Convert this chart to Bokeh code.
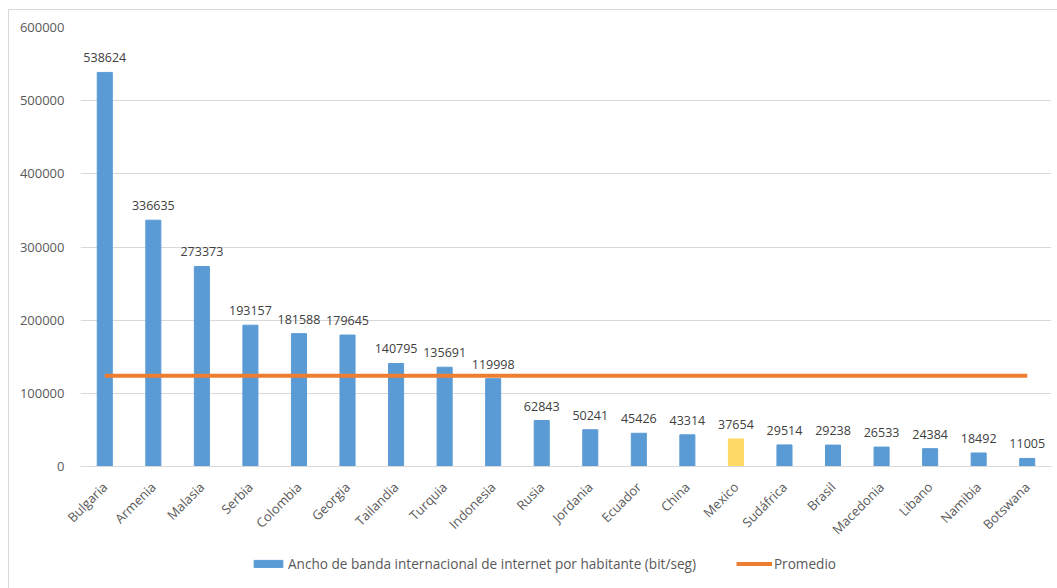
from math import pi

from bokeh.embed import file_html
from bokeh.resources import INLINE
from bokeh.plotting import figure
from bokeh.layouts import column
from bokeh.models import (ColumnDataSource, Range1d, FactorRange, Legend, LegendItem,
                          NumeralTickFormatter, FixedTicker)
from bokeh.core.properties import value

# --- data ---
paises = ["Bulgaria", "Armenia", "Malasia", "Serbia", "Colombia", "Georgia", "Tailandia",
          "Turquia", "Indonesia", "Rusia", "Jordania", "Ecuador", "China", "Mexico",
          "Sudáfrica", "Brasil", "Macedonia", "Libano", "Namibia", "Botswana"]
ancho_banda = [538624, 336635, 273373, 193157, 181588, 179645, 140795, 135691, 119998,
               62843, 50241, 45426, 43314, 37654, 29514, 29238, 26533, 24384, 18492, 11005]
promedio = 123908
y_ticks = [0, 100000, 200000, 300000, 400000, 500000, 600000]

AZUL = "#5B9BD5"
NARANJA = "#ED7D31"
AMARILLO = "#FFD966"
GRIS_TEXTO = "#595959"
FUENTE = "Open Sans"

colores = [AMARILLO if p == "Mexico" else AZUL for p in paises]
src = ColumnDataSource(dict(pais=paises, valor=ancho_banda, color=colores,
                            etiqueta=[str(v) for v in ancho_banda]))

# ---- main chart ----
p = figure(width=1048, height=538, x_range=FactorRange(*paises, range_padding=0),
           y_range=Range1d(0, 600000), output_backend="svg", toolbar_location=None,
           min_border_left=71, min_border_right=6, min_border_top=17, min_border_bottom=82)
p.outline_line_color = None
p.background_fill_color = "white"
p.border_fill_color = "white"

# bars
p.vbar(x="pais", top="valor", width=0.31, color="color", source=src)

# value labels above each bar
p.text(x="pais", y="valor", text="etiqueta", source=src, text_align="center",
       text_baseline="bottom", y_offset=-10, text_font=value(FUENTE),
       text_font_size="12.5px", text_color="#404040")

# average line across the categories
p.line(x=[paises[0], paises[-1]], y=[promedio, promedio], line_color=NARANJA, line_width=4)

# axes
p.yaxis.ticker = FixedTicker(ticks=y_ticks)
p.yaxis.formatter = NumeralTickFormatter(format="0")
p.yaxis.axis_line_color = None
p.yaxis.major_tick_line_color = None
p.yaxis.minor_tick_line_color = None
p.yaxis.major_label_text_font = FUENTE
p.yaxis.major_label_text_font_size = "13px"
p.yaxis.major_label_text_color = GRIS_TEXTO
p.yaxis.major_label_standoff = 10

p.xaxis.axis_line_color = "#D9D9D9"
p.xaxis.major_tick_line_color = None
p.xaxis.minor_tick_line_color = None
p.xaxis.major_label_orientation = pi / 4
p.xaxis.major_label_text_font = FUENTE
p.xaxis.major_label_text_font_size = "13px"
p.xaxis.major_label_text_color = GRIS_TEXTO
p.xaxis.major_label_standoff = 12

p.xgrid.grid_line_color = None
p.ygrid.grid_line_color = "#D9D9D9"
p.ygrid.ticker = FixedTicker(ticks=y_ticks)

# ---- legend strip ----
# hidden copies of the two series provide the legend swatches
pl = figure(width=1048, height=40, x_range=FactorRange(*paises, range_padding=0),
            y_range=Range1d(0, 600000), output_backend="svg", toolbar_location=None,
            min_border_left=0, min_border_right=0, min_border_top=0, min_border_bottom=0)
pl.axis.visible = False
pl.grid.visible = False
pl.outline_line_color = None
pl.border_fill_color = "white"
pl.background_fill_color = "white"

sw_barras = pl.vbar(x="pais", top="valor", width=0.31, color=AZUL, source=src)
sw_linea = pl.line(x=[paises[0], paises[-1]], y=[promedio, promedio],
                   line_color=NARANJA, line_width=4)
sw_barras.visible = False
sw_linea.visible = False

leyenda = Legend(items=[
    LegendItem(label="Ancho de banda internacional de internet por habitante (bit/seg)",
               renderers=[sw_barras]),
    LegendItem(label="Promedio", renderers=[sw_linea]),
], location=(170, 15), orientation="horizontal")
leyenda.border_line_color = None
leyenda.background_fill_alpha = 0
leyenda.inactive_fill_alpha = 0
leyenda.padding = 0
leyenda.margin = 0
leyenda.spacing = 40
leyenda.glyph_width = 36
leyenda.glyph_height = 9
leyenda.label_standoff = 2
leyenda.label_height = 16
leyenda.label_text_font = FUENTE
leyenda.label_text_font_size = "13.6px"
leyenda.label_text_color = GRIS_TEXTO
pl.add_layout(leyenda, "center")

grafico = column(p, pl, spacing=0, margin=(9, 0, 0, 8),
                 styles={"border-left": "1px solid #D9D9D9", "border-top": "1px solid #D9D9D9"})

open("out.html", "w").write(file_html(grafico, INLINE))
